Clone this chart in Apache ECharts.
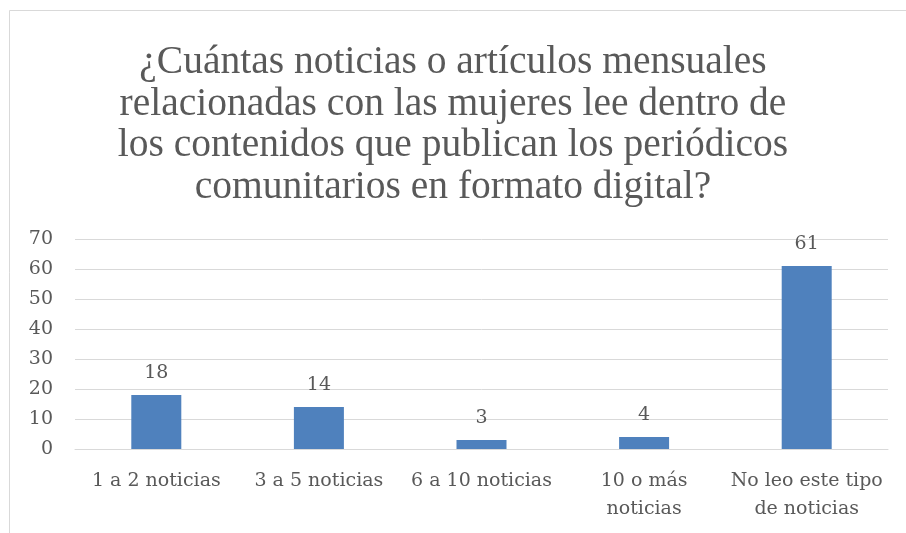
<!DOCTYPE html>
<html>
<head>
<meta charset="utf-8">
<script src="https://cdn.jsdelivr.net/npm/echarts@6/dist/echarts.min.js"></script>
<style>
    html, body { margin: 0; padding: 0; background: #fff; }
    #chart { width: 906px; height: 533px; }
</style>
</head>
<body>
<div id="chart"></div>
<script>
    var categories = ['1 a 2 noticias', '3 a 5 noticias', '6 a 10 noticias', '10 o más\nnoticias', 'No leo este tipo\nde noticias'];
    var values = [18, 14, 3, 4, 61];
    var titleText = '¿Cuántas noticias o artículos mensuales\nrelacionadas con las mujeres lee dentro de\nlos contenidos que publican los periódicos\ncomunitarios en formato digital?';

    var myChart = echarts.init(document.getElementById('chart'));
    var textColor = '#595959';

    var option = {
        backgroundColor: '#fff',
        animation: false,
        graphic: [{
            type: 'rect',
            shape: {x: 9.5, y: 10.5, width: 906, height: 530},
            style: {fill: 'none', stroke: '#d9d9d9', lineWidth: 1}
        }],
        title: {
            text: titleText,
            left: 'center',
            top: 37,
            textStyle: {
                fontFamily: 'Liberation Serif',
                fontWeight: 'normal',
                fontSize: 39.5,
                lineHeight: 41.5,
                color: textColor,
                align: 'center'
            }
        },
        grid: {left: 75, right: 18, top: 239, bottom: 84},
        xAxis: {
            type: 'category',
            data: categories,
            axisLine: {show: true, lineStyle: {color: '#d9d9d9', width: 1}},
            axisTick: {show: false},
            axisLabel: {
                color: textColor,
                fontFamily: 'DejaVu Serif',
                fontSize: 19,
                lineHeight: 28,
                margin: 18,
                interval: 0
            }
        },
        yAxis: {
            type: 'value',
            min: 0,
            max: 70,
            interval: 10,
            axisLine: {show: false},
            axisTick: {show: false},
            splitLine: {lineStyle: {color: '#d9d9d9', width: 1}},
            axisLabel: {
                color: textColor,
                fontFamily: 'DejaVu Serif',
                fontSize: 19,
                margin: 22
            }
        },
        series: [{
            type: 'bar',
            data: values,
            barWidth: 50,
            itemStyle: {color: '#4f81bd'},
            label: {
                show: true,
                position: 'top',
                distance: 12,
                color: textColor,
                fontFamily: 'DejaVu Serif',
                fontSize: 19
            }
        }]
    };
    myChart.setOption(option);
</script>
</body>
</html>
